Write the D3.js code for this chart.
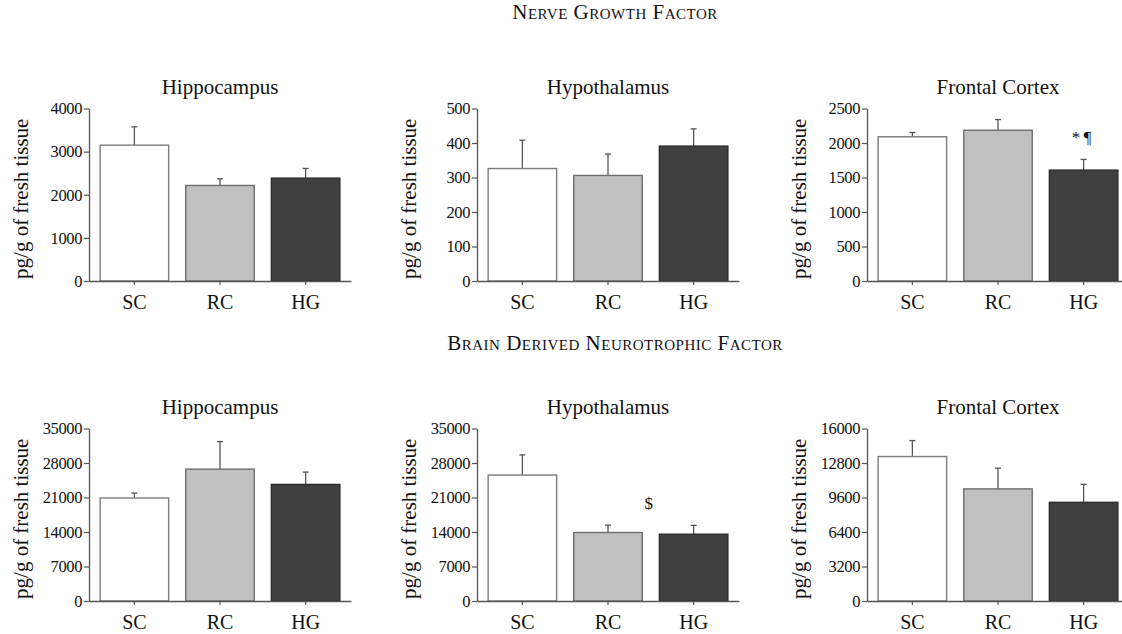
<!DOCTYPE html>
<html>
<head>
<meta charset="utf-8">
<script src="https://cdn.jsdelivr.net/npm/d3@7"></script>
<style>
  body { margin: 0; background: #fff; }
  text { font-family: "Liberation Serif", "DejaVu Serif", serif; fill: #111; }
</style>
</head>
<body>
<svg id="chart" width="1122" height="634"></svg>
<script>
// groups and colours
const groups = ["SC", "RC", "HG"];
const fills = ["#ffffff", "#c0c0c0", "#404040"];
const edges = ["#7c7c7c", "#6e6e6e", "#2c2c2c"];

// Nerve growth factor (pg/g), mean and SEM
const ngfHippo = [3150, 2215, 2385];
const ngfHippoSem = [425, 155, 225];
const ngfHypo = [326, 306, 391];
const ngfHypoSem = [82, 62, 50];
const ngfFront = [2090, 2185, 1607];
const ngfFrontSem = [62, 155, 155];

// Brain derived neurotrophic factor (pg/g)
const bdnfHippo = [20900, 26750, 23650];
const bdnfHippoSem = [1000, 5600, 2500];
const bdnfHypo = [25550, 13900, 13550];
const bdnfHypoSem = [4100, 1500, 1800];
const bdnfFront = [13400, 10400, 9150];
const bdnfFrontSem = [1480, 1920, 1670];

// y tick labels
const ticksNgfHippo = [0, 1000, 2000, 3000, 4000];
const ticksNgfHypo = [0, 100, 200, 300, 400, 500];
const ticksNgfFront = [0, 500, 1000, 1500, 2000, 2500];
const ticksBdnfHippo = [0, 7000, 14000, 21000, 28000, 35000];
const ticksBdnfHypo = [0, 7000, 14000, 21000, 28000, 35000];
const ticksBdnfFront = [0, 3200, 6400, 9600, 12800, 16000];

const sectionTitles = ["Nerve Growth Factor", "Brain Derived Neurotrophic Factor"];
const regions = ["Hippocampus", "Hypothalamus", "Frontal Cortex"];

const panels = [
  {row: 0, col: 0, vals: ngfHippo, sem: ngfHippoSem, ticks: ticksNgfHippo},
  {row: 0, col: 1, vals: ngfHypo, sem: ngfHypoSem, ticks: ticksNgfHypo},
  {row: 0, col: 2, vals: ngfFront, sem: ngfFrontSem, ticks: ticksNgfFront, mark: "*\u2009\u00b6", markAt: [2]},
  {row: 1, col: 0, vals: bdnfHippo, sem: bdnfHippoSem, ticks: ticksBdnfHippo},
  {row: 1, col: 1, vals: bdnfHypo, sem: bdnfHypoSem, ticks: ticksBdnfHypo, mark: "$", markAt: [1, 2]},
  {row: 1, col: 2, vals: bdnfFront, sem: bdnfFrontSem, ticks: ticksBdnfFront}
];

const svg = d3.select("#chart");
svg.append("rect").attr("width", 1122).attr("height", 634).attr("fill", "#fff");

const colX = [89, 477, 867];
const rowTop = [108.5, 428.5];
const plotH = 172.5;
const plotW = 262;
const axisCol = "#555";

// section headings
[19, 350].forEach(function(y, i){
  svg.append("text")
    .attr("x", 615).attr("y", y)
    .attr("text-anchor", "middle")
    .style("font-size", "21px")
    .style("letter-spacing", "0.5px")
    .style("font-variant", "small-caps")
    .text(sectionTitles[i]);
});

panels.forEach(function(p){
  const ox = colX[p.col], top = rowTop[p.row];
  const g = svg.append("g").attr("transform", "translate(" + ox + "," + top + ")");

  const x = d3.scaleBand().domain(groups).range([0, plotW])
    .paddingInner(0.2).paddingOuter(0.13);
  const y = d3.scaleLinear().domain([0, d3.max(p.ticks)]).range([plotH, 0]);

  // region title
  g.append("text")
    .attr("x", 131).attr("y", -15)
    .attr("text-anchor", "middle")
    .style("font-size", "21px")
    .text(regions[p.col]);

  // y label
  g.append("text")
    .attr("transform", "translate(-61," + (plotH / 2 + 4) + ") rotate(-90)")
    .attr("text-anchor", "middle")
    .style("font-size", "21px")
    .text("pg/g of fresh tissue");

  // error bars (upper only)
  const eb = g.selectAll(".err").data(groups).enter().append("g");
  eb.append("line")
    .attr("x1", d => x(d) + x.bandwidth() / 2)
    .attr("x2", d => x(d) + x.bandwidth() / 2)
    .attr("y1", (d, i) => y(p.vals[i]))
    .attr("y2", (d, i) => y(p.vals[i] + p.sem[i]))
    .attr("stroke", "#555").attr("stroke-width", 1.3);
  eb.append("line")
    .attr("x1", d => x(d) + x.bandwidth() / 2 - 3)
    .attr("x2", d => x(d) + x.bandwidth() / 2 + 3)
    .attr("y1", (d, i) => y(p.vals[i] + p.sem[i]))
    .attr("y2", (d, i) => y(p.vals[i] + p.sem[i]))
    .attr("stroke", "#555").attr("stroke-width", 1.3);

  // bars
  g.selectAll(".bar").data(groups).enter().append("rect")
    .attr("x", d => x(d))
    .attr("width", x.bandwidth())
    .attr("y", (d, i) => y(p.vals[i]))
    .attr("height", (d, i) => plotH - y(p.vals[i]))
    .attr("fill", (d, i) => fills[i])
    .attr("stroke", (d, i) => edges[i])
    .attr("stroke-width", 1.4);

  // axes
  const ya = g.append("g")
    .call(d3.axisLeft(y).tickValues(p.ticks).tickFormat(d3.format("d"))
      .tickSize(5).tickPadding(2).tickSizeOuter(0));
  const xa = g.append("g").attr("transform", "translate(0," + plotH + ")")
    .call(d3.axisBottom(x).tickSize(4).tickPadding(10).tickSizeOuter(0));
  [ya, xa].forEach(function(a){
    a.attr("font-family", null).attr("font-size", null);
    a.select(".domain").attr("stroke", axisCol).attr("stroke-width", 1.3);
    a.selectAll(".tick line").attr("stroke", axisCol).attr("stroke-width", 1.2);
    a.selectAll("text").attr("fill", "#111");
  });
  ya.selectAll("text").style("font-size", "16.5px").style("letter-spacing", "-0.4px");
  xa.selectAll("text").style("font-size", "20px");

  // significance marks
  if (p.mark) {
    const cx = d3.mean(p.markAt, i => x(groups[i]) + x.bandwidth() / 2);
    const yTop = d3.min(p.markAt, i => y(p.vals[i] + p.sem[i]));
    g.append("text")
      .attr("x", cx - 2).attr("y", yTop - 16)
      .attr("text-anchor", "middle")
      .style("font-size", "17px")
      .text(p.mark);
  }
});
</script>
</body>
</html>
